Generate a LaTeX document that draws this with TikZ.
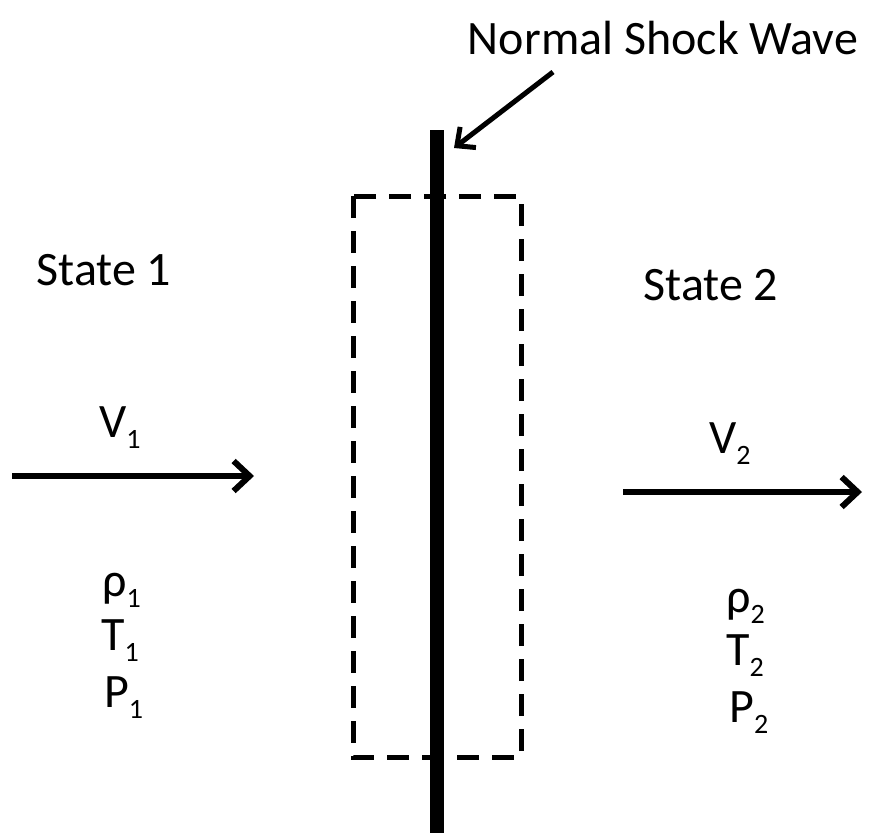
\documentclass[tikz,border=0pt]{standalone}
\usepackage{fontspec}
\setmainfont{Carlito}
\usetikzlibrary{arrows.meta}
\newcommand{\lowsub}[1]{\raisebox{-11pt}{\fontsize{28}{28}\selectfont #1}}
\tikzset{
  lbl/.style={font=\fontsize{48}{52}\selectfont, inner sep=0pt},
  flow/.style={line width=6pt, -{Straight Barb[length=16pt,width=30pt,line width=6pt]}},
  ptr/.style={line width=5pt, -{Straight Barb[length=14pt,width=26pt,line width=5pt]}},
  cv/.style={line width=5pt, dash pattern=on 22pt off 13pt},
  shock/.style={line width=14pt}
}
\begin{document}
\begin{tikzpicture}[x=1pt,y=-1pt]
\useasboundingbox (0,0) rectangle (873,833);
% control volume
\draw[cv] (353,196) rectangle (521,757);
% shock
\coordinate (st) at (437,130);
\coordinate (sb) at (437,833);
\draw[shock] (st) -- (sb);
% label and pointer
\node[lbl] (nsw) at (663,38) {Normal Shock Wave};
\coordinate (ps) at (553,72);
\coordinate (pe) at (454,148);
\draw[ptr] (ps) -- (pe);
% states
\node[lbl] (s1) at (104,270) {State 1};
\node[lbl] (s2) at (711,285) {State 2};
% velocities
\node[lbl, anchor=base west] (v1) at (99,437) {V\lowsub{1}};
\coordinate (a1s) at (12,476);
\coordinate (a1e) at (254,476);
\draw[flow] (a1s) -- (a1e);
\node[lbl, anchor=base west] (v2) at (709,453) {V\lowsub{2}};
\coordinate (a2s) at (623,492);
\coordinate (a2e) at (862,492);
\draw[flow] (a2s) -- (a2e);
% properties
\node[lbl, anchor=base west] (r1) at (102,596) {ρ\lowsub{1}};
\node[lbl, anchor=base west] (t1) at (101,650) {T\lowsub{1}};
\node[lbl, anchor=base west] (p1) at (104,707) {P\lowsub{1}};
\node[lbl, anchor=base west] (r2) at (726,612) {ρ\lowsub{2}};
\node[lbl, anchor=base west] (t2) at (726,665) {T\lowsub{2}};
\node[lbl, anchor=base west] (p2) at (729,722) {P\lowsub{2}};
\end{tikzpicture}
\end{document}
